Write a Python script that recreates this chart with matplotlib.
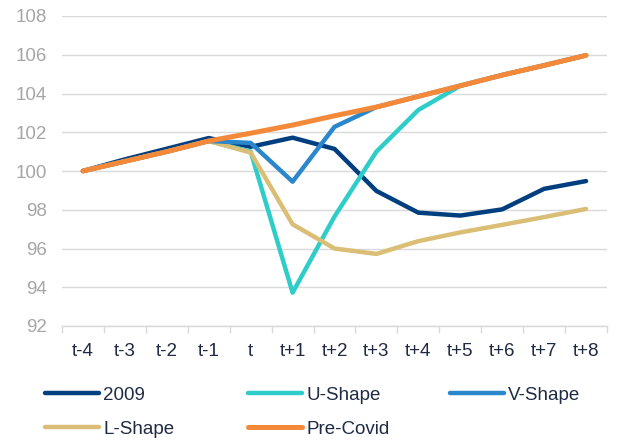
import matplotlib
matplotlib.use("Agg")
import matplotlib.pyplot as plt

plt.rcParams['font.family'] = ['Liberation Sans', 'DejaVu Sans']

periods = ["t-4", "t-3", "t-2", "t-1", "t", "t+1", "t+2", "t+3", "t+4", "t+5", "t+6", "t+7", "t+8"]
s2009 = [100.0, 100.6, 101.15, 101.7, 101.25, 101.72, 101.14, 98.97, 97.85, 97.7, 98.02, 99.08, 99.48]
u_shape = [100.0, 100.5, 101.0, 101.55, 101.0, 93.72, 97.65, 101.0, 103.15, 104.4, 104.95, 105.45, 105.97]
v_shape = [100.0, 100.5, 101.0, 101.55, 101.45, 99.45, 102.28, 103.3, 103.85, 104.4, 104.95, 105.45, 105.97]
l_shape = [100.0, 100.5, 101.0, 101.55, 100.95, 97.25, 96.0, 95.72, 96.38, 96.83, 97.22, 97.62, 98.04]
pre_covid = [100.0, 100.5, 101.0, 101.55, 101.95, 102.37, 102.85, 103.3, 103.85, 104.4, 104.95, 105.45, 105.97]

yticks = [92, 94, 96, 98, 100, 102, 104, 106, 108]

W, H = 619, 447
fig = plt.figure(figsize=(W / 100, H / 100), dpi=100)
ax = fig.add_axes([62 / W, 1 - 326 / H, (607 - 62) / W, (326 - 16) / H])

text_col = "#1F2A44"
x = list(range(len(periods)))
style = dict(solid_capstyle="round", solid_joinstyle="round")
l1, = ax.plot(x, s2009, color="#003F7F", lw=3.2, label="2009", zorder=3, **style)
l2, = ax.plot(x, u_shape, color="#2ECDC9", lw=3.2, label="U-Shape", zorder=4, **style)
l4, = ax.plot(x, l_shape, color="#DBBE76", lw=3.2, label="L-Shape", zorder=5, **style)
l3, = ax.plot(x, v_shape, color="#2B87CB", lw=3.2, label="V-Shape", zorder=6, **style)
l5, = ax.plot(x, pre_covid, color="#F5893A", lw=3.6, label="Pre-Covid", zorder=7, **style)

ax.set_xlim(-0.5, len(periods) - 0.5)
ax.set_ylim(92, 108)
ax.set_yticks(yticks)
ax.set_yticklabels([str(v) for v in yticks], color="#A6A6A6", fontsize=13.5)
ax.yaxis.grid(True, color="#D9D9D9", lw=1.0)
ax.set_axisbelow(True)
ax.tick_params(axis="y", length=0, pad=11)

ax.set_xticks(x)
ax.set_xticklabels(periods, color=text_col, fontsize=13.5)
ax.set_xticks([i - 0.5 for i in range(len(periods) + 1)], minor=True)
ax.tick_params(axis="x", which="major", length=0, pad=12)
ax.tick_params(axis="x", which="minor", length=5, color="#D9D9D9", width=1)

for s in ["top", "right", "left"]:
    ax.spines[s].set_visible(False)
ax.spines["bottom"].set_color("#D9D9D9")
ax.spines["bottom"].set_linewidth(1.0)

legend_slots = [(l1, 45, 395), (l4, 45, 429), (l2, 248, 395), (l5, 248, 429), (l3, 450, 395)]
for h, px, py in legend_slots:
    leg = fig.legend([h], [h.get_label()], loc="center left",
                     bbox_to_anchor=(px / W, 1 - py / H), frameon=False, fontsize=13.5,
                     handlelength=2.9, handletextpad=0.2, borderpad=0, borderaxespad=0)
    for t in leg.get_texts():
        t.set_color(text_col)

fig.savefig("out.png", dpi=100)
